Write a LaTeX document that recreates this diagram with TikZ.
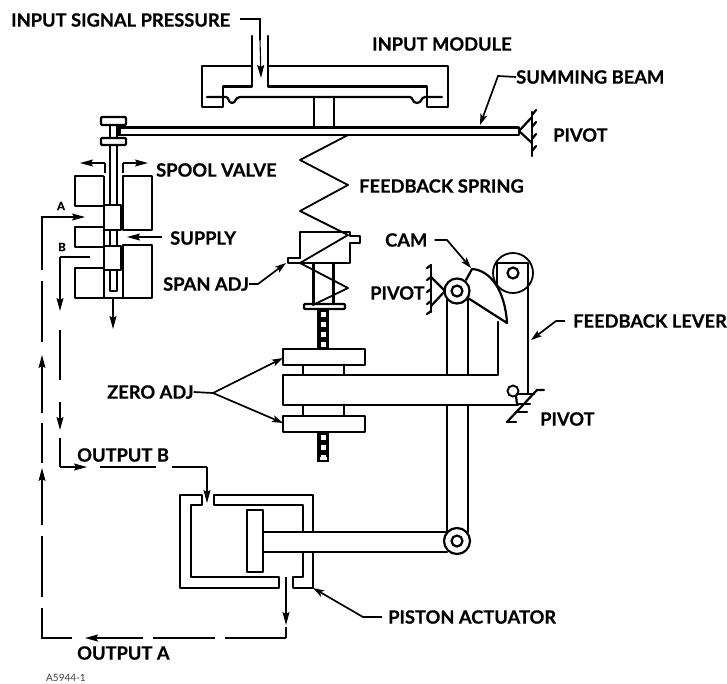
\documentclass[tikz,border=0pt]{standalone}
\usepackage{fontspec}
\setmainfont{Lato}[BoldFont={Lato Bold},BoldFeatures={FakeBold=0.6}]
\usetikzlibrary{arrows.meta}
\tikzset{
  lbl/.style={anchor=west,inner sep=0pt,font=\fontsize{18.3}{18}\selectfont\bfseries},
  thick line/.style={line width=2.2pt,line join=round,line cap=round},
  thin line/.style={line width=1.2pt},
  leader/.style={line width=1.7pt,-{Stealth[length=11pt,width=7pt,inset=2.5pt]}},
  flow/.style={line width=1.1pt},
  flowtip/.style={line width=1.1pt,-{Stealth[length=13pt,width=7pt,inset=2pt]}},
  flowb/.style={line width=1.5pt},
  hole/.style={circle,draw,line width=2.2pt,minimum size=11pt,inner sep=0pt},
}
\begin{document}
\begin{tikzpicture}[x=1pt,y=-1pt]
\useasboundingbox (0,0) rectangle (727,683);
% labels
\node[lbl] (lIn) at (11,20) {INPUT SIGNAL PRESSURE};
\node[lbl] (lMod) at (372,44) {INPUT MODULE};
\node[lbl] (lSum) at (516,77) {SUMMING BEAM};
\node[lbl] (lPiv1) at (553,135) {PIVOT};
\node[lbl] (lSpool) at (156,170) {SPOOL VALVE};
\node[lbl] (lSpring) at (359,186) {FEEDBACK SPRING};
\node[lbl] (lSup) at (170,238) {SUPPLY};
\node[lbl] (lSpan) at (163,284) {SPAN ADJ};
\node[lbl] (lCam) at (385,240) {CAM};
\node[lbl] (lPiv2) at (370,293) {PIVOT};
\node[lbl] (lLev) at (573,321) {FEEDBACK LEVER};
\node[lbl] (lZero) at (107,392) {ZERO ADJ};
\node[lbl] (lPiv3) at (540,419) {PIVOT};
\node[lbl] (lB) at (77,455) {OUTPUT B};
\node[lbl] (lA) at (77,653) {OUTPUT A};
\node[lbl] (lAct) at (388,617) {PISTON ACTUATOR};
\node[anchor=west,inner sep=0pt,font=\fontsize{10}{10}\selectfont,text=black!75] (lRef) at (46,678) {A5944-1};
\node[anchor=center,inner sep=0pt,font=\fontsize{11.5}{11}\selectfont\bfseries] (lpa) at (61,206) {A};
\node[anchor=center,inner sep=0pt,font=\fontsize{11.5}{11}\selectfont\bfseries] (lpb) at (62,247) {B};
% input module
\draw[thick line] (252,36) -- (252,66) -- (202,66) -- (202,107) -- (223,107) -- (223,86.5) -- (252,86.5) -- (252,66);
\draw[thick line] (268,36) -- (268,86.5) -- (427,86.5) -- (427,107) -- (448,107) -- (448,66) -- (268,66);
\draw[thick line] (207,97) -- (226,97) .. controls (229,97) and (228,103) .. (232,103) .. controls (236,103) and (235,97) .. (240,97) -- (410,97) .. controls (413,97) and (412,103) .. (417,103) .. controls (422,103) and (421,97) .. (425,97) -- (442,97);
\draw[thick line] (314,97) -- (314,127) (334,97) -- (334,127);
% beam
\draw[thick line] (121,127.5) -- (519,127.5) -- (519,135) -- (121,135);
\draw[line width=3.5pt] (119.5,126) -- (119.5,136);
% beam pivot
\draw[thick line] (532,117) -- (519,131) -- (532,143);
\draw[thick line] (532,112) -- (532,156);
\foreach \y in {112,124,136,148}{\draw[thick line] (532,\y+3) -- (536,\y-2);}
% spool knob
\draw[thick line,rounded corners=1pt] (101,117) rectangle (126,125);
\draw[thick line] (110,125) -- (110,138) (117,125) -- (117,138);
\draw[thick line,rounded corners=1pt] (101,138) rectangle (126,145);
\draw[thick line] (110,145) -- (110,205) (117,145) -- (117,205);
% valve body
\draw[thick line] (103,176) -- (75,176) -- (75,206) -- (103,206);
\draw[thick line] (103,227) -- (75,227) -- (75,247) -- (103,247);
\draw[thick line] (103,268) -- (75,268) -- (75,298) -- (152,298) -- (152,245) -- (123,245) -- (123,298);
\draw[thick line] (123,176) -- (152,176) -- (152,230) -- (123,230) -- (123,176);
\draw[thin line] (104,176) -- (104,205) (104,230) -- (104,246) (104,270) -- (104,298);
\draw[thick line] (104,205) rectangle (121,230);
\draw[thick line] (104,246) rectangle (121,270);
\draw[thick line] (110,230) -- (110,246) (117,230) -- (117,246);
\draw[thick line] (110,270) -- (110,291) -- (117,291) -- (117,270);
% spool arrows
\coordinate (sl) at (80,163); \coordinate (sr) at (148,163);
\draw[flow] (105,173) -- (105,163);
\draw[flowtip] (105,163) -- (sl);
\draw[flow] (123,173) -- (123,163);
\draw[flowtip] (123,163) -- (sr);
\coordinate (sup) at (127,237);
\draw[flowtip,line width=1.3pt] (162,237) -- (sup);
\coordinate (ex) at (113,329);
\draw[flowtip] (113,298) -- (ex);
% output A line
\draw[flowtip] (42,270) -- (42,217) -- (85,217);
\draw[flow] (42,281) -- (42,342);
\draw[flowtip] (42,413) -- (42,355);
\draw[flow] (42,423) -- (42,463);
\draw[flowtip] (42,525) -- (42,468);
\draw[flow] (42,536) -- (42,597);
\draw[flow] (42,608) -- (42,638) -- (72,638);
\draw[flowtip,flowb] (143,638) -- (85,638);
\draw[flowb] (153,638) -- (215,638);
\draw[flowb] (225,638) -- (286,638);
\draw[flow] (286,638) -- (286,627);
\draw[flowtip] (286,577) -- (286,625);
% output B line
\draw[flow] (90,257) -- (60,257);
\draw[flowtip] (60,257) -- (60,311);
\draw[flow] (60,330) -- (60,380);
\draw[flowtip] (60,402) -- (60,430);
\draw[flow] (60,438) -- (60,467);
\draw[flowtip] (60,467) -- (87,467);
\draw[flow] (100,467) -- (156,467);
\draw[flow] (172,467) -- (207,467);
\draw[flowtip] (207,467) -- (207,503);
% spring
\draw[thick line,line width=1.8pt] (348,135) -- (300,160) -- (348,185) -- (300,211) -- (348,235) -- (300,263) -- (348,288) -- (313,305);
% span adj
\draw[thick line] (300,258) -- (300,232) -- (350,232) -- (350,236) -- (360,236) -- (360,243) -- (350,243) -- (350,263) -- (288,263) -- (288,258) -- (300,258);
\draw[thick line] (313.5,263) -- (313.5,304) (333.5,263) -- (333.5,304);
\draw[thick line,rounded corners=1pt] (304,304) rectangle (345,309);
% screws
\fill (317,309) rectangle (329,349);
\fill (317,432) rectangle (329,462);
\foreach \y in {314,324,334.5,344.5,437,447,457}{
  \fill[white] (320.5,\y-2.5) rectangle (326,\y+2.5);
}
\fill[white] (319.5,457) rectangle (327,460);
\fill[white] (320.5,454.5) rectangle (326,460);
% plates and lever
\draw[thick line] (283,349) rectangle (365,365);
\draw[thick line] (283,416) rectangle (365,432);
\draw[thick line] (303,365) -- (303,375) (344,365) -- (344,375);
\draw[thick line] (303,405) -- (303,416) (344,405) -- (344,416);
\draw[thick line] (498,322) -- (498,375) -- (283,375) -- (283,405) -- (518,405);
% vertical rod
\draw[thick line] (447,300) -- (447,375) (468,298) -- (468,375);
\draw[thick line] (447,405) -- (447,532) (468,405) -- (468,532);
% piston
\draw[thick line] (202,495) -- (180,495) -- (180,588) -- (279,588) -- (279,577) -- (191,577) -- (191,505) -- (202,505) -- cycle;
\draw[thick line] (214,505) -- (214,495) -- (313,495) -- (313,588) -- (293,588) -- (293,577) -- (303,577) -- (303,505) -- cycle;
\draw[thick line] (247,510) rectangle (263,572);
\fill[white] (264,532) rectangle (447,552);
\draw[thick line] (263,532) -- (447,532) (263,552) -- (447,552);
% rod pivots
\node[circle,draw,fill=white,line width=2.2pt,minimum size=25pt,inner sep=0pt] (cBig) at (457,291) {};
\node[hole] (cBigI) at (457,291) {};
\node[circle,draw,fill=white,line width=2.2pt,minimum size=26pt,inner sep=0pt] (cLow) at (457,541) {};
\node[hole] (cLowI) at (457,541) {};
% cam
\draw[thick line] (466,280) -- (472,269) .. controls (490,270) and (505,290) .. (507,323) -- (468,298);
% cam follower
\node[circle,draw,line width=1.8pt,minimum size=40pt,inner sep=0pt] (cFol) at (513,273) {};
\node[hole] (cFolI) at (513,273) {};
\draw[thick line] (497,286) -- (497,263) -- (528,263) -- (528,393);
% feedback lever pivot
\node[circle,draw,line width=1.9pt,minimum size=11pt,inner sep=0pt] (cSm) at (513,391) {};
\draw[thick line] (516,396) -- (517,404);
\draw[thick line] (517,394) -- (528,394);
\draw[thick line] (507,422) -- (537,390) -- (544,390);
\draw[thick line] (507,422) -- (516,422) (516,412) -- (527,412) (518,404) -- (530,404) (522,394) -- (534,394);
% cam pivot
\draw[thick line] (431,265) -- (431,312);
\foreach \y in {265,277,289,301,311}{\draw[thick line] (431,\y) -- (427,\y+3);}
\draw[thick line] (431,277) -- (445,291) -- (431,306);
% leaders
\coordinate (tIn) at (261,78);
\draw[line width=1.7pt] (240,19) -- (260,19) -- (260,40);
\draw[flowtip] (260,40) -- (tIn);
\coordinate (tSum) at (480,125);
\draw[leader] (lSum.west) -- (498,76) -- (tSum);
\coordinate (tSpan) at (286,263);
\draw[leader] (lSpan.east) -- (258,284) -- (tSpan);
\coordinate (tCam) at (471,268);
\draw[leader] (lCam.east) ++(7,0) -- (447,240) -- (tCam);
\coordinate (tLev) at (531,340);
\draw[leader] (lLev.west) ++(-8,0) -- (556,321) -- (tLev);
\coordinate (tZ1) at (283,358); \coordinate (tZ2) at (283,423); \coordinate (zJ) at (213,393);
\draw[line width=1.7pt] (lZero.east) -- (zJ);
\draw[leader] (zJ) -- (tZ1);
\draw[leader] (zJ) -- (tZ2);
\coordinate (tAct) at (313,588);
\draw[leader] (lAct.west) ++(-6,0) -- (363,617) -- (tAct);
\end{tikzpicture}
\end{document}
